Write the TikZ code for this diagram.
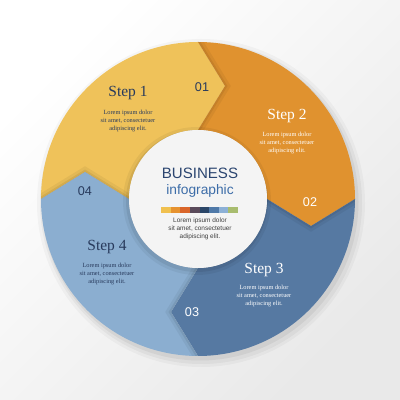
\documentclass[tikz,border=0pt]{standalone}
\usepackage{fontspec}
\setmainfont{Liberation Serif}
\setsansfont{Liberation Sans}
\usetikzlibrary{positioning}

\definecolor{stepyellow}{RGB}{239,194,90}
\definecolor{steporange}{RGB}{224,146,47}
\definecolor{stepblue}{RGB}{86,121,162}
\definecolor{steplight}{RGB}{139,174,208}
\definecolor{inknavy}{RGB}{40,58,92}
\definecolor{titleblue}{RGB}{43,69,112}
\definecolor{infoblue}{RGB}{61,109,168}
\definecolor{centergray}{RGB}{244,244,244}
\definecolor{bgray}{RGB}{233,233,233}
\definecolor{barA}{RGB}{240,192,79}
\definecolor{barB}{RGB}{230,146,47}
\definecolor{barC}{RGB}{217,101,42}
\definecolor{barD}{RGB}{90,74,90}
\definecolor{barE}{RGB}{43,70,104}
\definecolor{barF}{RGB}{79,121,168}
\definecolor{barG}{RGB}{140,176,214}
\definecolor{barH}{RGB}{168,188,110}

\tikzset{
  steptitle/.style={font=\fontsize{11}{13}\selectfont, inner sep=0pt},
  stepnum/.style={font=\sffamily\fontsize{9}{11}\selectfont, inner sep=0pt},
  steptext/.style={font=\fontsize{4.5}{5.5}\selectfont, align=center, inner sep=0pt},
  foldwide/.style={line width=7pt, black, opacity=0.05},
  foldnarrow/.style={line width=3pt, black, opacity=0.07},
}
\newcommand{\lorem}{Lorem ipsum dolor\\sit amet, consectetuer\\adipiscing elit.}
% the four arrow segments of the ring
\newcommand{\segyellow}{(o4) arc[start angle=180, end angle=90, radius=157] -- (t1) -- (i1)
  arc[start angle=90, end angle=180, radius=69] -- (t4) -- cycle}
\newcommand{\segorange}{(o1) arc[start angle=90, end angle=0, radius=157] -- (t2) -- (i2)
  arc[start angle=0, end angle=90, radius=69] -- (t1) -- cycle}
\newcommand{\segblue}{(o2) arc[start angle=0, end angle=-90, radius=157] -- (t3) -- (i3)
  arc[start angle=-90, end angle=0, radius=69] -- (t2) -- cycle}
\newcommand{\seglight}{(o3) arc[start angle=270, end angle=180, radius=157] -- (t4) -- (i4)
  arc[start angle=180, end angle=270, radius=69] -- (t3) -- cycle}

\begin{document}
\begin{tikzpicture}[x=0.025cm, y=0.025cm]
    \shade[top color=white, bottom color=bgray, shading angle=45] (0,0) rectangle (400,400);
    \useasboundingbox (0,0) rectangle (400,400);

    \coordinate (c) at (198,201);
    \begin{scope}[shift={(c)}]
        \coordinate (o1) at (90:157);  \coordinate (t1) at (27,113);   \coordinate (i1) at (90:69);
        \coordinate (o2) at (0:157);   \coordinate (t2) at (113,-27);  \coordinate (i2) at (0:69);
        \coordinate (o3) at (270:157); \coordinate (t3) at (-27,-113); \coordinate (i3) at (270:69);
        \coordinate (o4) at (180:157); \coordinate (t4) at (-113,27);  \coordinate (i4) at (180:69);
    \end{scope}

    % soft shadow of the ring
    \fill[black, opacity=0.03] ([shift={(3,-4)}]c) circle (164);
    \fill[black, opacity=0.04] ([shift={(3,-4)}]c) circle (161);
    \fill[black, opacity=0.05] ([shift={(2,-3)}]c) circle (158.5);

    \fill[stepyellow] \segyellow;
    \fill[steporange] \segorange;
    \fill[stepblue] \segblue;
    \fill[steplight] \seglight;

    % fold shadows under the arrow tips
    \begin{scope}
        \clip \segorange;
        \draw[foldwide] (o1) -- (t1) -- (i1);
        \draw[foldnarrow] (o1) -- (t1) -- (i1);
    \end{scope}
    \begin{scope}
        \clip \segblue;
        \draw[foldwide] (o2) -- (t2) -- (i2);
        \draw[foldnarrow] (o2) -- (t2) -- (i2);
    \end{scope}
    \begin{scope}
        \clip \seglight;
        \draw[foldwide] (o3) -- (t3) -- (i3);
        \draw[foldnarrow] (o3) -- (t3) -- (i3);
    \end{scope}
    \begin{scope}
        \clip \segyellow;
        \draw[foldwide] (o4) -- (t4) -- (i4);
        \draw[foldnarrow] (o4) -- (t4) -- (i4);
    \end{scope}

    % centre disc
    \fill[black, opacity=0.05] ([shift={(-1,-2)}]c) circle (74);
    \fill[black, opacity=0.07] ([shift={(-1,-2)}]c) circle (71);
    \fill[centergray] (c) circle (69);

    % step texts
    \node[steptitle, text=inknavy] (s1) at (128,307) {Step 1};
    \node[steptext, text=inknavy] (l1) at (128,279) {\lorem};
    \node[stepnum, text=inknavy] (n1) at (202,313) {01};

    \node[steptitle, text=white] (s2) at (287,284) {Step 2};
    \node[steptext, text=white] (l2) at (287,257) {\lorem};
    \node[stepnum, text=white] (n2) at (310,198) {02};

    \node[steptitle, text=white] (s3) at (264,130) {Step 3};
    \node[steptext, text=white] (l3) at (264,104) {\lorem};
    \node[stepnum, text=white] (n3) at (192,88) {03};

    \node[steptitle, text=inknavy] (s4) at (107,153) {Step 4};
    \node[steptext, text=inknavy] (l4) at (107,126) {\lorem};
    \node[stepnum, text=inknavy] (n4) at (85,209) {04};

    % centre texts
    \node[font=\sffamily\fontsize{10.7}{12}\selectfont, text=titleblue, inner sep=0pt] (head) at (200,227) {BUSINESS};
    \node[font=\sffamily\fontsize{9.8}{12}\selectfont, text=infoblue, inner sep=0pt] (sub) at (200,209) {infographic};
    \fill[barA] (161,187) rectangle +(9.625,6);
    \fill[barB] (170.625,187) rectangle +(9.625,6);
    \fill[barC] (180.25,187) rectangle +(9.625,6);
    \fill[barD] (189.875,187) rectangle +(9.625,6);
    \fill[barE] (199.5,187) rectangle +(9.625,6);
    \fill[barF] (209.125,187) rectangle +(9.625,6);
    \fill[barG] (218.75,187) rectangle +(9.625,6);
    \fill[barH] (228.375,187) rectangle +(9.625,6);
    \node[font=\sffamily\fontsize{4.6}{5.6}\selectfont, align=center, text=black!75, inner sep=0pt] (body) at (200,171) {\lorem};
\end{tikzpicture}
\end{document}
